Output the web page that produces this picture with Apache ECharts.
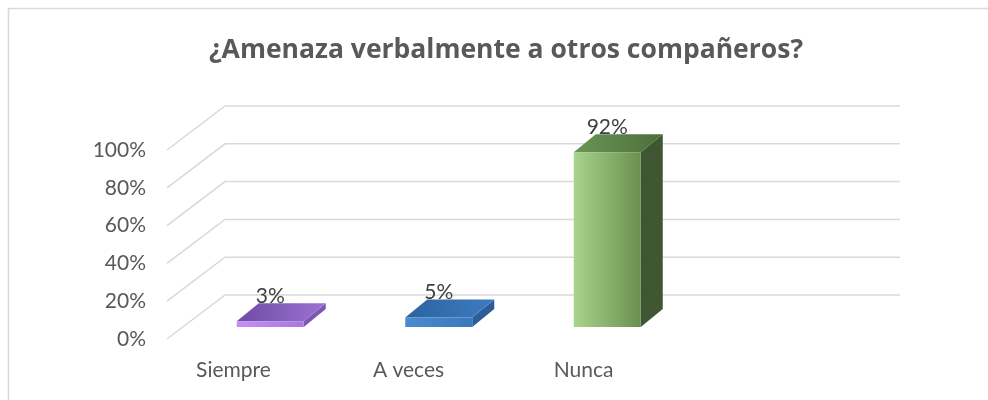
<!DOCTYPE html>
<html><head><meta charset="utf-8">
<script src="https://cdn.jsdelivr.net/npm/echarts@6/dist/echarts.min.js"></script>
<style>html,body{margin:0;padding:0;background:#fff}#c{width:988px;height:400px}</style>
</head><body><div id="c"></div>
<script>
const titleText = '¿Amenaza verbalmente a otros compañeros?';
const categories = ['Siempre', 'A veces', 'Nunca', ''];
const values = [0.03, 0.05, 0.92];
const valueLabels = ['3%', '5%', '92%'];
const tickValues = [0, 0.2, 0.4, 0.6, 0.8, 1.0];

const palette = [
  { front: ['#c58ef5', '#a877e0'], top: ['#6f4aa3', '#9c72d2'], side: '#7d56b5' },
  { front: ['#4a8bd0', '#3a78bb'], top: ['#2c639e', '#3d7cc2'], side: '#2c5e96' },
  { front: ['#a9d48c', '#6a8f4f'], top: ['#6a9656', '#4c6e3b'], side: '#3e5631' }
];

const DX = 22, DY = -18, BAR_W = 67;
const WDX = 58, WDY = -44;

const chart = echarts.init(document.getElementById('c'), null, { renderer: 'canvas' });
chart.setOption({
  backgroundColor: '#fff',
  animation: false,
  title: {
    text: titleText, left: 501, textAlign: 'center', top: 32,
    textStyle: { fontFamily: 'Open Sans', fontWeight: 'bold', fontSize: 26.5, color: '#595959' }
  },
  graphic: [{
    type: 'rect', shape: { x: 8.5, y: 8.5, width: 1200, height: 600 },
    style: { fill: 'none', stroke: '#d9d9d9', lineWidth: 1.5 }, silent: true, z: -1
  }],
  grid: [
    { left: 167, right: 146, top: 150, bottom: 61 },
    { left: 186, right: 128, top: 137, bottom: 73 },
    { left: 146, right: 142, top: 150, bottom: 61 }
  ],
  xAxis: [
    { type: 'category', gridIndex: 0, data: categories, axisLine: { show: false }, axisTick: { show: false }, axisLabel: { show: false } },
    { type: 'category', gridIndex: 1, data: categories, axisLine: { show: false }, axisTick: { show: false }, axisLabel: { show: false } },
    { type: 'category', gridIndex: 2, data: categories, axisLine: { show: false }, axisTick: { show: false },
      axisLabel: { margin: 21, fontFamily: 'Lato', fontSize: 21, color: '#595959' } }
  ],
  yAxis: [
    { type: 'value', gridIndex: 0, min: 0, max: 1, interval: 0.2,
      axisLine: { show: false }, axisTick: { show: false }, splitLine: { show: false },
      axisLabel: { margin: 21, fontFamily: 'Lato', fontSize: 21, color: '#595959', padding: [4, 0, 0, 0],
        formatter: v => Math.round(v * 100) + '%' } },
    { type: 'value', gridIndex: 1, min: 0, max: 1, interval: 0.2, show: false, splitLine: { show: false } },
    { type: 'value', gridIndex: 2, min: 0, max: 1, interval: 0.2, show: false, splitLine: { show: false } }
  ],
  series: [
    {
      type: 'custom', xAxisIndex: 0, yAxisIndex: 0, silent: true, z: 1,
      data: tickValues.map(v => [0, v]),
      renderItem: function (params, api) {
        const cs = params.coordSys;
        const y = api.coord([0, api.value(1)])[1];
        const x0 = cs.x, x1 = cs.x + WDX, x2 = cs.x + cs.width + WDX;
        return {
          type: 'polyline',
          shape: { points: [[x0, y], [x1, y + WDY], [x2, y + WDY]] },
          style: { stroke: '#d9d9d9', lineWidth: 1.5, fill: null }
        };
      }
    },
    {
      type: 'custom', xAxisIndex: 1, yAxisIndex: 1, silent: true, z: 5,
      data: values.map((v, i) => [i, v]),
      renderItem: function (params, api) {
        const i = api.value(0);
        const top = api.coord([i, api.value(1)]);
        const base = api.coord([i, 0]);
        const xl = top[0] - BAR_W / 2, xr = top[0] + BAR_W / 2;
        const yt = top[1], yb = base[1];
        const p = palette[i];
        return {
          type: 'group',
          children: [
            { type: 'polygon', shape: { points: [[xr, yt], [xr + DX, yt + DY], [xr + DX, yb + DY], [xr, yb]] },
              style: { fill: p.side } },
            { type: 'polygon', shape: { points: [[xl, yt], [xr, yt], [xr + DX, yt + DY], [xl + DX, yt + DY]] },
              style: { fill: new echarts.graphic.LinearGradient(0, 0, 1, 0, [{ offset: 0, color: p.top[0] }, { offset: 1, color: p.top[1] }]) } },
            { type: 'rect', shape: { x: xl, y: yt, width: BAR_W, height: Math.max(yb - yt, 1) },
              style: { fill: new echarts.graphic.LinearGradient(0, 0, 1, 0, [{ offset: 0, color: p.front[0] }, { offset: 1, color: p.front[1] }]) } },
            { type: 'text', x: top[0], y: yt - 25,
              style: { text: valueLabels[i], fontFamily: 'Lato', fontSize: 21, fill: '#404040', align: 'center', verticalAlign: 'middle' } }
          ]
        };
      }
    }
  ]
});
</script></body></html>
